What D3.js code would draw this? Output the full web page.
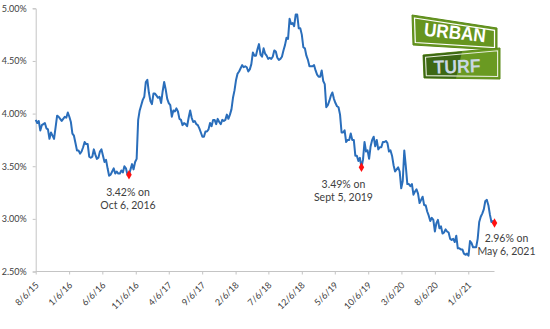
<!DOCTYPE html>
<html>
<head>
<meta charset="utf-8">
<script src="https://cdn.jsdelivr.net/npm/d3@7"></script>
<style>
  html, body { margin: 0; padding: 0; background: #fff; }
  svg { display: block; }
  text { font-family: Lato, "Liberation Sans", Arial, sans-serif; }
</style>
</head>
<body>
<svg id="chart" width="550" height="329"></svg>
<script>
// Weekly 30-year fixed mortgage rate (%), one value per week starting on firstWeek
const firstWeek = "2015-08-06";
const rates2015 = [3.94,3.91,3.93,3.84,3.89,3.90,3.91,3.86,3.85,3.76,3.82,3.79,3.76,3.87,3.98,3.97,3.95,3.93,3.95,3.97,3.96,4.01];
const rates2016 = [3.97,3.92,3.81,3.79,3.72,3.65,3.65,3.62,3.64,3.68,3.73,3.71,3.71,3.59,3.58,3.59,3.66,3.61,3.57,3.58,3.64,3.66,3.60,3.54,3.56,3.48,3.41,3.42,3.45,3.48,3.43,3.45,3.43,3.43,3.46,3.44,3.50,3.48,3.42,3.42,3.47,3.52,3.47,3.54,3.57,3.94,4.03,4.08,4.13,4.16,4.30,4.32];
const rates2017 = [4.20,4.12,4.09,4.19,4.19,4.17,4.15,4.16,4.10,4.21,4.30,4.23,4.14,4.10,4.08,3.97,4.03,4.02,4.05,4.02,3.95,3.94,3.89,3.91,3.90,3.88,3.96,4.03,3.96,3.92,3.93,3.90,3.89,3.86,3.82,3.78,3.78,3.83,3.83,3.85,3.91,3.88,3.94,3.94,3.90,3.95,3.92,3.90,3.94,3.93,3.94,3.99];
const rates2018 = [3.95,3.99,4.04,4.15,4.22,4.32,4.38,4.40,4.43,4.46,4.44,4.45,4.44,4.40,4.42,4.47,4.58,4.55,4.55,4.61,4.66,4.56,4.54,4.62,4.57,4.55,4.52,4.53,4.52,4.54,4.60,4.59,4.53,4.51,4.52,4.54,4.60,4.65,4.72,4.71,4.90,4.85,4.86,4.83,4.94,4.94,4.81,4.81,4.75,4.63,4.62,4.55];
const rates2019 = [4.51,4.45,4.45,4.45,4.46,4.41,4.37,4.35,4.35,4.41,4.31,4.28,4.06,4.08,4.12,4.17,4.20,4.14,4.10,4.07,4.06,3.99,3.82,3.82,3.84,3.73,3.75,3.75,3.81,3.75,3.75,3.60,3.60,3.55,3.58,3.49,3.56,3.73,3.64,3.65,3.57,3.69,3.75,3.78,3.69,3.75,3.66,3.68,3.68,3.73,3.73,3.74];
const rates2020 = [3.72,3.64,3.65,3.60,3.51,3.45,3.47,3.49,3.45,3.29,3.36,3.65,3.50,3.33,3.33,3.31,3.33,3.23,3.26,3.28,3.24,3.15,3.18,3.21,3.13,3.13,3.07,3.03,2.98,3.01,2.99,2.88,2.96,2.99,2.91,2.93,2.86,2.87,2.90,2.88,2.87,2.81,2.80,2.81,2.78,2.84,2.72,2.72,2.71,2.71,2.67,2.66,2.67];
const rates2021 = [2.65,2.79,2.77,2.73,2.73,2.73,2.81,2.97,3.02,3.05,3.09,3.17,3.18,3.13,3.04,2.97,2.98,2.96];

const yTicks = [2.5, 3.0, 3.5, 4.0, 4.5, 5.0];
const xTickLabels = ["8/6/15","1/6/16","6/6/16","11/6/16","4/6/17","9/6/17","2/6/18","7/6/18","12/6/18","5/6/19","10/6/19","3/6/20","8/6/20","1/6/21"];
const axisEnd = "2021-05-06";

// Highlighted weeks
const calloutDates = ["2016-10-06", "2019-09-05", "2021-05-06"];
const calloutValues = [3.42, 3.49, 2.96];
const calloutDateText = ["Oct 6, 2016", "Sept 5, 2019", "May 6, 2021"];

const parseISO = d3.timeParse("%Y-%m-%d");
const parseTick = d3.timeParse("%-m/%-d/%y");

const rates = [].concat(rates2015, rates2016, rates2017, rates2018, rates2019, rates2020, rates2021);
const start = parseISO(firstWeek);
const series = rates.map((v, i) => ({ date: d3.timeWeek.offset(start, i), value: v }));

const svg = d3.select("#chart");
const x = d3.scaleTime()
  .domain([parseTick(xTickLabels[0]), parseISO(axisEnd)])
  .range([35.7, 494.5]);
const y = d3.scaleLinear().domain([2.5, 5.0]).range([271.5, 8.3]);

const axisColor = "#c4c4c4";
const textColor = "#404040";

// Y axis
const gy = svg.append("g").attr("transform", `translate(${x.range()[0]},0)`)
  .call(d3.axisLeft(y).tickValues(yTicks).tickSize(3).tickPadding(6)
    .tickFormat(d => d.toFixed(2) + "%"));
gy.selectAll("path, line").attr("stroke", axisColor);
gy.selectAll("text").attr("fill", textColor).style("font-size", "9px")
  .style("font-family", "Lato, 'Liberation Sans', sans-serif");

// X axis
const gx = svg.append("g").attr("transform", `translate(0,${y(2.5)})`)
  .call(d3.axisBottom(x).tickValues(xTickLabels.map(parseTick)).tickSize(3)
    .tickFormat((d, i) => xTickLabels[i]));
gx.select("path").attr("d", `M${x.range()[0]},0H${x.range()[1]}`);
gx.selectAll("path, line").attr("stroke", axisColor);
gx.selectAll("text")
  .attr("fill", textColor)
  .style("font-size", "9px")
  .style("font-family", "Lato, 'Liberation Sans', sans-serif")
  .attr("text-anchor", "end")
  .attr("x", 0).attr("y", 0).attr("dy", "0.35em")
  .attr("transform", "translate(1,12) rotate(-45)");

// Rate line
const line = d3.line().x(d => x(d.date)).y(d => y(d.value));
svg.append("path").datum(series)
  .attr("d", line)
  .attr("fill", "none")
  .attr("stroke", "#2a6ebb")
  .attr("stroke-width", 2)
  .attr("stroke-linejoin", "round");

// Callout markers and labels
const callouts = calloutDates.map((d, i) => ({
  date: parseISO(d), value: calloutValues[i], when: calloutDateText[i]
}));
svg.selectAll(".mark").data(callouts).join("path")
  .attr("class", "mark")
  .attr("d", d3.symbol(d3.symbolDiamond, 26))
  .attr("transform", d => `translate(${x(d.date)},${y(d.value)})`)
  .attr("fill", "#ff1010");

const labelOffsets = [[-1, 21], [-18, 21], [12, 18.5]];
const lbl = svg.selectAll(".callout").data(callouts).join("text")
  .attr("class", "callout")
  .attr("text-anchor", "middle")
  .attr("fill", textColor)
  .style("font-size", "10.5px");
lbl.append("tspan")
  .attr("x", (d, i) => x(d.date) + labelOffsets[i][0])
  .attr("y", (d, i) => y(d.value) + labelOffsets[i][1])
  .text(d => d.value.toFixed(2) + "% on");
lbl.append("tspan")
  .attr("x", (d, i) => x(d.date) + labelOffsets[i][0])
  .attr("dy", 13)
  .text(d => d.when);

// Street-sign logo
const logo = svg.append("g");
logo.append("polygon")
  .attr("points", "412,15 497,28 497,50 413,45")
  .attr("fill", "#66951f").attr("stroke", "#5a8a18").attr("stroke-width", 1);
logo.append("polygon")
  .attr("points", "414.5,18 494.5,30.3 494.5,47.5 415.3,42.5")
  .attr("fill", "none").attr("stroke", "#ffffff").attr("stroke-width", 1.2);
logo.append("text")
  .attr("x", 455).attr("y", 39)
  .attr("text-anchor", "middle")
  .attr("transform", "rotate(6,455,33)")
  .attr("fill", "#ffffff")
  .style("font-family", "'Liberation Sans', Arial, sans-serif")
  .style("font-weight", "bold")
  .style("font-size", "19px")
  .attr("textLength", 62).attr("lengthAdjust", "spacingAndGlyphs")
  .text("URBAN");

const bottomPts = "423,55 500,48 500,79 424,78";
logo.append("polygon").attr("points", bottomPts)
  .attr("fill", "#6a9a22").attr("stroke", "#5a8a18").attr("stroke-width", 1);
logo.append("polygon").attr("points", "423,55 462,51.5 456,78.6 424,78")
  .attr("fill", "#3d6814");
logo.append("polygon")
  .attr("points", "425.5,57.3 497.6,50.8 497.6,76.5 426.3,75.6")
  .attr("fill", "none").attr("stroke", "#e8eedd").attr("stroke-width", 1.1);
logo.append("text")
  .attr("x", 457).attr("y", 73)
  .attr("text-anchor", "middle")
  .attr("transform", "rotate(-2,457,66)")
  .attr("fill", "#c9d7e3")
  .style("font-family", "'Liberation Sans', Arial, sans-serif")
  .style("font-weight", "bold")
  .style("font-size", "19px")
  .attr("textLength", 47).attr("lengthAdjust", "spacingAndGlyphs")
  .text("TURF");
</script>
</body>
</html>
